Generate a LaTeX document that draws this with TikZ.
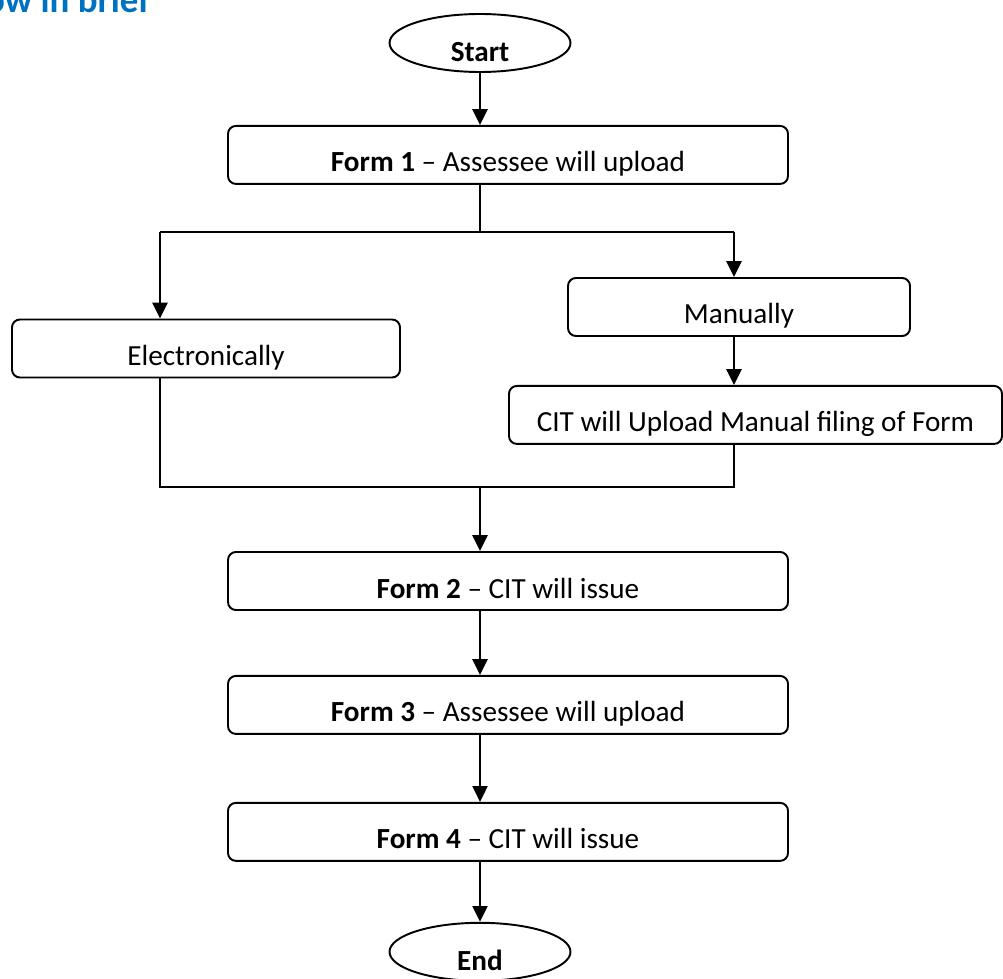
\documentclass[tikz,border=0pt]{standalone}
\usepackage{fontspec}
\setmainfont{Carlito}
\usepackage{xcolor}
\definecolor{headblue}{RGB}{0,112,192}
\usepackage{tikz}
\usetikzlibrary{arrows.meta,positioning,shapes.geometric}

\begin{document}
\begin{tikzpicture}[
      box/.style={draw, line width=1.1pt, rounded corners=4.5pt, minimum height=1.16cm,
                  text height=0.68cm, text depth=0pt, inner sep=0pt, font=\fontsize{16.6}{20}\selectfont},
      term/.style={draw, ellipse, line width=1.1pt, minimum width=3.62cm, minimum height=1.16cm,
                   text height=0.76cm, text depth=0pt, inner sep=0pt, font=\fontsize{16.6}{20}\selectfont\bfseries},
      line/.style={line width=0.9pt},
      arr/.style={-{Triangle[length=9pt,width=8.5pt]}, line width=1.4pt}
  ]
    \clip (0,0) rectangle (20.06,-19.58);
    \node[font=\fontsize{21}{25}\selectfont\bfseries, text=headblue, anchor=base east] (title) at (3.12,-0.26) {Flow in brief};
    \node[term] (start) at (9.6,-0.86) {Start};
    \node[box, minimum width=11.2cm, below=1.04cm of start, xshift=0.56cm] (form1) {\textbf{Form 1} -- Assessee will upload};
    \node[box, minimum width=7.76cm] (elec) at (4.12,-6.97) {Electronically};
    \node[box, minimum width=6.84cm] (manual) at (14.78,-6.14) {Manually};
    \node[box, minimum width=9.86cm, below=0.96cm of manual, xshift=0.33cm] (cit) {CIT will Upload Manual filing of Form};
    \node[box, minimum width=11.2cm] (form2) at (10.16,-11.62) {\textbf{Form 2} -- CIT will issue};
    \node[box, minimum width=11.2cm, below=1.28cm of form2] (form3) {\textbf{Form 3} -- Assessee will upload};
    \node[box, minimum width=11.2cm, below=1.34cm of form3] (form4) {\textbf{Form 4} -- CIT will issue};
    \node[term, below=1.2cm of form4, xshift=-0.56cm] (end) {End};
    % fork and join points
    \coordinate (forkL) at (3.2,-4.64);
    \coordinate (forkR) at (14.68,-4.64);
    \coordinate (joinL) at (3.2,-9.74);
    \coordinate (joinR) at (14.68,-9.74);
    \draw[arr] (start) -- (start |- form1.north);
    \draw[line] (form1.south -| start) -- (forkL -| start);
    \draw[line] (forkL) -- (forkR);
    \draw[arr] (forkL) -- (forkL |- elec.north);
    \draw[arr] (forkR) -- (forkR |- manual.north);
    \draw[arr] (manual.south -| forkR) -- (cit.north -| forkR);
    \draw[line] (elec.south -| forkL) -- (joinL) -- (joinR) -- (cit.south -| forkR);
    \draw[arr] (joinL -| start) -- (form2.north -| start);
    \foreach \a/\b in {form2/form3, form3/form4}
      \draw[arr] (\a.south -| start) -- (\b.north -| start);
    \draw[arr] (form4.south -| start) -- (end);
  \end{tikzpicture}
\end{document}
